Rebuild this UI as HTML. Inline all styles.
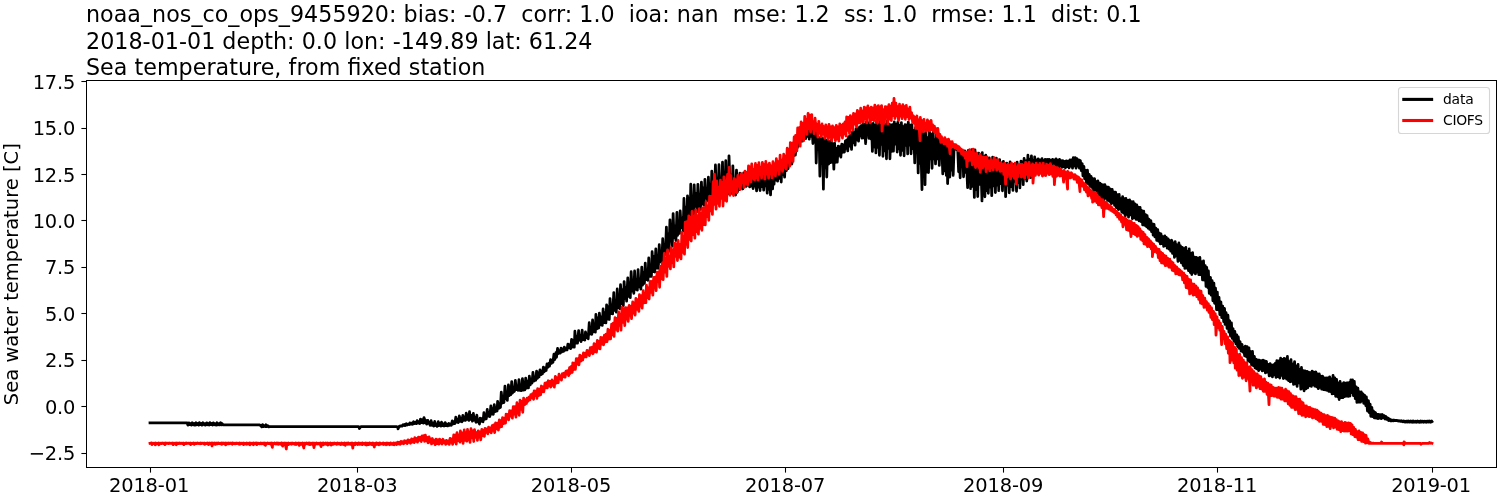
<!DOCTYPE html>
<html lang="en"><head><meta charset="utf-8"><title>noaa_nos_co_ops_9455920 Sea temperature</title>
<style>
html,body{margin:0;padding:0;background:#fff;}
body{width:1500px;height:500px;overflow:hidden;}
svg{display:block;}
text{font-family:"DejaVu Sans","Liberation Sans",sans-serif;}
</style></head><body>
<svg width="1500" height="500" viewBox="0 0 1500 500">
<rect width="1500" height="500" fill="#fff"/>
<g fill="none" stroke-width="2.778" stroke-linejoin="round" stroke-linecap="square">
<path stroke="#000" d="M150,422.90L150.30,422.89L151.36,422.91L152.19,422.90L152.90,422.91L153.93,422.89L154.61,422.91L155.45,422.89L156.35,422.91L157.41,422.89L158.21,422.91L159.08,422.90L159.80,422.91L160.84,422.89L161.69,422.91L162.49,422.90L163.60,422.91L164.47,422.89L165.29,422.91L166.24,422.89L167.12,422.91L167.91,422.89L168.82,422.91L169.73,422.89L170.67,422.91L171.40,422.89L172.05,422.91L173.01,422.90L174.10,422.91L175,422.89L175.61,422.91L176.50,422.89L177.46,422.91L178.22,422.89L179.31,422.91L180.28,422.90L181.07,422.91L182.09,422.89L182.66,422.91L183.75,422.89L184.60,422.91L185.47,422.89L186.26,422.91L187.10,422.97L187.88,425.11L188.84,422.87L189.82,424.54L190.83,423.40L191.62,425.11L192.27,422.76L193.30,424.71L194.36,423.55L195.01,425.11L196.02,422.69L196.68,424.71L197.64,423.57L198.75,425.11L199.40,422.69L200.49,424.60L201.25,423.39L202.02,425.11L202.95,422.69L204.02,424.72L204.87,423.63L205.39,425.11L206.60,422.84L207.38,424.73L208.03,423.39L209.07,425.11L209.86,422.69L210.87,424.53L211.82,423.54L212.64,425.11L213.31,422.87L214.54,424.71L215.11,423.66L216.18,425.11L216.99,422.75L217.73,424.88L218.61,423.74L219.50,424.88L220.57,422.69L221.52,424.82L222.09,423.58L223.17,424.92L223.85,424.79L224.98,424.90L225.84,424.81L226.51,424.92L227.41,424.78L228.36,424.90L229.41,424.83L229.98,424.92L230.88,424.78L231.86,424.90L232.96,424.81L233.71,424.92L234.38,424.78L235.47,424.88L236.36,424.81L237.25,424.92L238.24,424.78L238.99,424.91L239.72,424.83L240.70,424.91L241.54,424.78L242.57,424.90L243.36,424.84L244.09,424.91L244.90,424.78L245.77,424.90L246.63,424.83L247.65,424.92L248.41,424.78L249.29,424.89L250.25,424.83L251.34,424.92L252.14,424.78L252.85,424.90L253.84,424.83L254.74,424.92L255.77,424.78L256.48,424.90L257.31,424.81L258.28,424.92L259.24,424.79L260.11,425.29L260.84,425.42L261.80,426.90L262.56,424.66L263.51,426.50L264.45,425.60L265.39,426.64L266.01,424.74L267,426.61L267.88,425.67L268.82,426.88L269.56,426.69L270.64,426.71L271.57,426.70L272.46,426.71L273.08,426.69L274.04,426.71L274.77,426.69L275.83,426.71L276.86,426.69L277.63,426.71L278.50,426.70L279.22,426.71L280.08,426.69L281.02,426.71L282.07,426.69L282.68,426.71L283.70,426.69L284.59,426.71L285.60,426.69L286.45,426.71L287.29,426.69L287.99,426.71L288.81,426.69L289.91,426.71L290.79,426.69L291.76,426.71L292.51,426.70L293.45,426.71L294.16,426.69L295.07,426.71L295.88,426.69L296.95,426.71L297.73,426.69L298.54,426.71L299.62,426.70L300.21,426.71L301.10,426.69L302.21,426.71L303.08,426.69L303.81,426.71L304.83,426.69L305.55,426.71L306.49,426.70L307.36,426.71L308.29,426.69L309.13,426.71L310.10,426.70L310.73,426.71L311.58,426.69L312.77,426.71L313.54,426.69L314.51,426.71L315.14,426.69L316.28,426.71L316.90,426.69L317.73,426.71L318.91,426.69L319.66,426.71L320.42,426.70L321.39,426.71L322.38,426.69L323.16,426.71L324.21,426.70L324.98,426.71L325.99,426.69L326.63,426.71L327.49,426.69L328.51,426.71L329.20,426.69L330,426.71L331,426.70L331.78,426.71L332.99,426.69L333.87,426.71L334.58,426.69L335.59,426.71L336.43,426.69L337.07,426.71L338.22,426.70L338.85,426.71L339.73,426.69L340.72,426.71L341.59,426.69L342.39,426.71L343.51,426.69L344.42,426.71L345.08,426.70L346.11,426.71L346.91,426.69L347.87,426.71L348.53,426.69L349.68,426.71L350.36,426.69L351.19,426.71L352.26,426.70L353.18,426.71L353.79,426.69L354.82,426.71L355.74,426.70L356.59,426.71L357.30,426.69L358.20,426.71L359.23,426.83L359.30,428.51L360.83,426.69L361.89,426.71L362.61,426.70L363.40,426.71L364.49,426.69L365.43,426.71L366.02,426.70L367.14,426.71L367.86,426.69L368.64,426.71L369.72,426.70L370.59,426.71L371.47,426.69L372.44,426.71L373.33,426.70L373.97,426.71L375.06,426.69L375.87,426.71L376.52,426.70L377.43,426.71L378.61,426.69L379.49,426.71L380.38,426.70L381.20,426.71L381.90,426.69L382.71,426.71L383.90,426.70L384.55,426.71L385.31,426.69L386.53,426.71L387.03,426.70L388.09,426.71L389.15,426.69L390.04,426.71L390.83,426.70L391.80,426.71L392.33,426.69L393.46,426.71L394.37,426.70L395.16,426.71L396.07,426.69L396.94,426.71L397.84,426.98L398,428.81L399.38,426.12L400.30,426.30L401.17,425.86L402.06,426.08L403.10,424.63L404.04,425.51L404.68,424.48L405.53,425.43L406.35,423.71L407.31,424.92L408.27,424.05L409.24,424.64L409.86,422.88L411.02,424.16L411.99,423.08L412.59,424.19L413.59,421.74L414.45,423.57L415.43,422.37L416.31,423.58L417.08,420.58L418.01,423.08L418.62,421.62L419.75,423.46L420.50,419.10L421.64,422.62L422.28,419.73L423.35,423.13L424.01,417.53L425.07,422.76L425.88,420.20L426.72,424.17L427.78,420.33L428.51,423.38L429.41,422.69L430.14,425.32L431.09,420.70L432.11,425.35L433.04,423.16L433.80,426.08L434.74,421.41L435.40,425.50L436.25,423.95L437.17,426.40L438.30,421.69L438.88,425.63L440.07,423.67L440.91,426.14L441.52,422.24L442.68,425.60L443.53,423.91L444.18,426.02L445.16,422.63L446.12,425.50L446.84,424.13L447.66,425.89L448.80,423.46L449.71,425.33L450.39,424.16L451.36,425.21L452.23,420.96L453.21,423.86L453.74,421.84L454.84,423.65L455.83,417.05L456.35,422.16L457.56,419.59L458.24,422.63L459.32,415.90L459.98,421.37L461.12,418.11L461.91,421.82L462.88,415.30L463.52,420.29L464.39,417.45L465.45,420.42L466.21,413.09L466.95,419.45L468.08,414.82L468.89,420.39L469.53,411.66L470.48,419.31L471.45,415.40L472.46,421.21L473.36,413.45L474.25,420.11L474.87,417.43L475.95,422.29L476.83,415.20L477.46,421.92L478.56,419.85L479.45,424.03L480.10,418.11L481.20,421.32L482.17,418.40L483,421.78L483.91,412.67L484.54,419.42L485.50,415.24L486.26,418.82L487.24,409.39L488.11,416.12L489.06,412.56L489.78,416.65L490.87,405.97L491.68,414.23L492.70,408.88L493.28,414.31L494.27,404.73L495.23,411.57L495.84,407.76L497.09,410.97L497.62,401.31L498.74,408.45L499.55,403.49L500.45,407.48L501.29,392.10L502.37,403.22L502.99,397.43L503.96,402.52L504.95,386.10L505.55,398.52L506.54,392.80L507.31,400.35L508.38,384.98L509.22,395.71L510.18,386.61L510.83,394.68L511.71,381.62L512.51,393.07L513.57,388.07L514.40,391.48L515.34,380.50L516.25,389.59L517.17,386.34L518.09,390.45L518.99,379.57L519.56,390.30L520.75,385.70L521.41,390.72L522.44,378.69L523.38,390.11L524.14,382.87L524.92,389.77L525.68,378.05L526.65,388.12L527.54,381.17L528.44,387.96L529.36,376.16L530.20,384.96L530.98,379.20L531.95,383.19L532.96,372.40L533.81,381.23L534.46,377.09L535.70,380.26L536.58,371.05L537.43,378.38L538,372.99L538.98,377.01L539.98,369.86L540.95,374.68L541.59,371.46L542.41,373.87L543.35,367.10L544.10,371.85L545.13,367.84L546.12,370.49L547,364.01L547.95,367.29L548.71,363.39L549.44,366.15L550.55,359.62L551.38,363.41L552.06,360.91L552.94,362.41L553.94,354.27L554.77,359.62L555.89,352.76L556.48,357.32L557.57,348.34L558.14,353.65L559.05,350.61L560.04,353.16L561.06,348.04L561.69,352.01L562.68,349.30L563.63,351.33L564.29,347.13L565.47,350.12L566.37,348.34L567.01,349.91L567.93,344.05L568.86,347.94L569.57,344.75L570.66,348.67L571.58,339.31L572.26,347.11L573.27,340.49L574.28,347.18L574.90,331.26L576.03,343.04L576.81,336.42L577.50,343.14L578.63,330.55L579.30,340.10L580.09,335.61L581.08,341.55L582.18,330.10L582.77,339.51L583.82,336.04L584.80,340.21L585.49,331.93L586.27,337.71L587.20,334.10L588.19,338.80L589.24,322.74L589.89,334.03L590.66,328.80L591.78,334.36L592.59,319.85L593.60,331.77L594.36,325.22L595.34,332.15L595.89,314.42L596.76,328.97L597.86,317.83L598.73,328.06L599.38,313.04L600.58,324.88L601.38,317L602.25,325.38L603.11,308.98L603.94,322.59L604.88,312.81L605.89,322.91L606.60,304.89L607.41,319.04L608.16,306.83L609.27,319.49L610.02,298.52L611.06,313.56L611.93,307.50L612.61,313.87L613.80,292.53L614.38,310.38L615.46,302.21L616.33,312.23L617.23,288.96L618.18,307.64L619.01,296.66L619.83,308.80L620.51,284.69L621.58,303.62L622.20,289.91L623.31,305.62L624.13,281.55L625.16,298.32L625.77,287.48L626.60,301.15L627.79,277.91L628.69,296.32L629.28,282.54L630.28,297.62L631.15,271.76L632.22,291.12L633.06,285.15L633.84,293.30L634.60,271L635.42,289.33L636.51,279.48L637.33,290.18L638.07,269.64L638.99,286.75L640.14,278.67L640.87,289.16L641.78,267.16L642.51,285.20L643.57,272.74L644.44,283.31L645.27,263.10L646.06,279.62L646.88,269.95L647.97,280.30L648.74,257.94L649.49,276.45L650.28,266.25L651.39,276.39L652.12,251.75L653.16,271.49L653.89,256.65L654.76,272.03L655.83,248.82L656.68,268.06L657.47,257.56L658.35,268.32L659.25,244.69L660.14,261.65L660.87,251.39L661.84,262.87L662.73,238.73L663.63,255.24L664.71,246.93L665.36,254.47L666.40,227.09L667.10,248.56L667.90,234.04L668.90,251.26L669.97,219.83L670.73,240.77L671.39,231.66L672.30,246.20L673.14,213.54L674.05,237.75L675.02,225.96L675.93,240.49L676.94,212.42L677.53,235.45L678.58,224.02L679.49,233.34L680.18,210.90L681.17,227.49L681.87,218.26L683.14,231.02L683.95,198.49L684.54,220.84L685.40,206.93L686.55,224.42L687.50,195.85L688.40,218.49L689.18,197.90L690.08,217.83L690.76,184.19L691.71,209.46L692.78,197.62L693.54,213.85L694.19,184.88L695.04,206.28L696.28,193.28L696.97,211.71L697.90,184.32L698.68,206.57L699.75,198.17L700.43,209.45L701.43,182.11L702.29,204.21L703.14,188.14L704.18,205.33L704.90,179.41L705.66,198.08L706.57,191.30L707.53,200.82L708.39,177.21L709.25,199.13L710.10,184.63L711.02,198.73L711.79,171.09L712.82,195.21L713.80,178.68L714.39,196.99L715.44,164.93L716.34,195.46L717.15,179.26L717.91,198.98L718.98,164.67L719.92,194.97L720.78,178.90L721.73,194.43L722.50,162.17L723.19,193.78L724.23,174.36L724.90,193.72L725.76,160.74L726.84,193.36L727.73,179.65L728.40,193.70L729,155.89L730.21,190.59L731.31,175.06L732.17,193.55L732.85,165.87L733.83,192.67L734.54,178.30L735.59,195.01L736.49,170.12L737.50,191.76L738.33,179.88L739.18,189.62L739.92,173.11L740.77,187.89L741.71,177.92L742.72,188.99L743.67,172.82L744.42,184.38L745.23,179.87L746.08,186.30L746.81,173.40L747.73,185.22L748.92,177.47L749.66,186.91L750.56,173.55L751.42,186.04L752.26,177.47L753.15,188.52L754.06,172.12L754.70,185.99L755.61,176.09L756.59,190.81L757.67,171.08L758.29,187.22L759.30,177.90L760.06,190.49L761.05,169.98L761.74,186.65L762.84,174.46L763.69,190.16L764.48,169.29L765.26,185.83L766.20,176.10L767.22,193.22L768.08,169.96L769.12,189.24L769.62,172.25L770.54,194.88L771.54,167.48L772.59,188.90L773.43,171L774.07,184.15L774.95,166.10L775.85,180.19L776.82,168.85L777.59,181.17L778.77,165.10L779.64,178.36L780.51,165.86L781.23,182.03L781.94,161.06L782.93,174.39L783.68,161.74L784.58,177.06L785.56,157.08L786.36,170.67L787.50,157.04L788.11,168.60L788.95,153.34L789.85,163.85L790.70,152.24L791.87,164.01L792.66,148.78L793.62,155.88L794.55,147.10L795.33,155.13L796.26,143.83L797.04,148.29L797.71,142.23L798.59,146.06L799.74,138L800.66,141.49L801.41,135.66L802.47,141.04L803.22,133.21L803.94,137.41L804.94,131.63L805.66,138.69L806.50,128.34L807.50,136.45L808.39,128.39L809.25,139.06L810.15,126.53L811.12,136.32L812.11,128.29L812.92,143.50L813.87,127.65L814.39,142.07L815.61,131.90L816.20,163.01L817.12,132.70L818.22,149.31L819.15,137.51L819.91,176.18L820.74,138.88L821.75,163.72L822.57,138.22L823.40,189.11L824.07,139.80L824.98,167.95L825.97,140.42L826.75,177.03L827.76,139.72L828.66,164L829.32,141.70L830.44,162.63L831.30,140.31L832.30,162.27L832.80,143.91L833.85,169.19L834.61,143.17L835.54,162.24L836.42,148.40L837.23,162.22L838.21,146.26L839.26,155.24L840.08,146.57L840.85,157.12L841.76,144.24L842.53,152.39L843.36,144.84L844.37,152.02L845.40,140.97L846.01,148.37L846.89,139.85L847.74,150.81L848.60,136.69L849.56,146.02L850.58,135.33L851.53,149.31L852.38,132.03L853.14,142.55L853.87,132.03L855.09,145.06L855.95,128.91L856.59,139.91L857.41,128.75L858.54,141.14L859.51,126.98L860.19,135.87L861.20,125.73L861.95,138.23L863.02,123.40L863.76,137.84L864.56,124.33L865.63,143.64L866.51,121.75L867.17,134.56L868.04,123.59L868.86,138.25L869.75,121.61L870.78,138.90L871.52,124.16L872.38,151.46L873.27,123.28L874.44,147.05L875.09,125.43L875.92,152.96L876.71,120.19L877.89,147.46L878.44,124.20L879.43,155.29L880.41,120.19L881.26,144.39L882.10,122.56L882.95,156.28L883.75,122.61L884.78,150.87L885.71,124.33L886.48,158.81L887.27,120.82L888.38,148.32L889.18,124.10L889.93,158.81L891.07,124.81L891.95,151.27L892.72,124.63L893.44,151.17L894.25,121.91L895.28,144.05L896.17,124.11L897.19,152L897.93,121.90L899,148.75L899.83,125.39L900.51,155.32L901.39,122.65L902.40,150.40L903.37,126.57L904.10,155.76L905,124.68L905.71,145.26L906.84,124.88L907.66,153.98L908.31,122.08L909.27,145L910.39,125.09L911.06,153.81L911.91,124.73L912.97,148.58L913.65,130.68L914.75,162.98L915.51,127.74L916.19,151.75L917.18,127.97L918.18,172.97L918.95,129.69L919.86,163.45L920.58,134.61L922,189.61L922.60,127.23L923.38,172.92L924.16,134.15L925.02,184.69L925.89,128.63L926.70,172.21L927.77,137.60L928.50,172.56L929.54,130.46L930.34,158.86L931.08,134.16L932.03,168.30L933.18,132.28L933.76,158.92L934.62,139.35L935.53,163.94L936.40,134.31L937.40,158.88L938.44,139.55L939.27,165.36L940.16,137.31L941.10,157.09L941.64,141.62L942.78,173.86L943.60,141.48L944.42,170.86L945.38,145.16L946.37,175.46L947.25,142.13L947.60,183.61L948.89,148.19L949.79,177.08L950.58,143.88L951.44,170.15L952.37,149.07L953.18,175.40L954.14,145.67L954.98,148.92L955.93,147.26L956.59,149.62L957.61,146.57L958.63,171.80L959.33,149.73L960.16,177.79L961.11,150.22L961.91,166.37L962.92,152.79L963.54,176.80L964.71,151.01L965.61,172.30L966.19,155.05L967.60,187.61L968.28,150.49L969.01,180.45L969.78,153.98L970.61,188.63L971.77,149.74L972.71,186.36L973.29,156.04L974.36,197.38L974.97,149.90L976.13,189.71L976.82,155.05L977.71,196.52L978.66,153.07L979.43,184.34L980.61,155.90L982,200.91L982.26,152.52L983.11,190.05L983.76,156.31L984.87,196.81L985.76,155.02L986.47,190.52L987.25,159.10L988.30,193.27L989.32,157.95L990.24,187L990.79,161.35L991.74,195.69L992.65,157.09L993.57,185.93L994.46,162.21L995.38,192.55L996.38,158.15L996.95,185.09L997.87,162.67L998.78,190.65L999.63,159.61L1000.76,183.50L1001.61,163.24L1002.47,190.79L1003.39,161.35L1003.95,183.88L1005.07,163.91L1005.60,196.61L1006.75,163.05L1007.74,185.10L1008.53,165.53L1009.23,192.81L1010.09,162L1010.99,186.67L1012.07,166.48L1012.97,190.48L1013.65,164.31L1014.48,181.47L1015.35,164.76L1016.53,191.28L1017.12,162.05L1018.18,182.57L1019.18,167.42L1019.88,187.93L1020.96,161.23L1021.56,178.87L1022.46,161.77L1023.22,184.59L1024.10,158.46L1025.28,178.68L1026.01,160.97L1026.77,181.04L1027.92,155.25L1028.81,173.68L1029.42,159.09L1030.62,177.63L1031.44,155.91L1032.32,171.46L1032.88,160.23L1034.07,174.76L1034.67,156.86L1035.89,170.79L1036.73,160.01L1037.37,170.96L1038.18,158.88L1039.06,166.36L1040.05,159.85L1041.09,170.43L1042.02,158.70L1042.85,167.06L1043.46,160.57L1044.45,168.78L1045.17,159.43L1046.18,167.35L1047.28,159.49L1048.15,167.97L1049.05,159.34L1049.82,166.19L1050.66,160.13L1051.41,168.46L1052.54,159.41L1053.20,165.36L1054.30,160L1055.19,167.86L1056.04,158.77L1056.91,166.03L1057.53,160.12L1058.65,167.08L1059.51,159.40L1060.21,166.08L1060.99,160.61L1061.96,167.38L1062.71,160.55L1063.72,166.74L1064.77,161.37L1065.45,167.87L1066.34,160.89L1067.13,166.66L1068.15,161.19L1069.16,167.96L1069.97,159.88L1070.97,166.22L1071.56,159.82L1072.52,168.10L1073.30,157.74L1074.36,165.77L1075.15,157.62L1076.05,168.18L1076.86,158.53L1077.69,166.02L1078.86,159.89L1079.40,168.06L1080.38,160.51L1081.29,170.63L1082.17,163.69L1082.96,175.88L1083.92,166.49L1084.66,178.97L1085.80,170.36L1086.44,182.88L1087.43,170.10L1088.42,184.10L1089.30,174.27L1089.96,186.12L1091.13,176.46L1091.69,187.43L1092.80,178.70L1093.60,190.59L1094.60,178.75L1095.23,190.07L1096.39,181.63L1097.11,192.81L1097.86,180.98L1098.95,194.75L1099.73,183.20L1100.66,197.55L1101.31,184.10L1102.27,198.12L1103.46,184.83L1104.22,199.52L1104.86,184.67L1105.99,198.19L1106.72,186.94L1107.50,200.29L1108.44,187.10L1109.39,201.24L1110.38,188.97L1111.17,203.78L1112.20,189.51L1113.11,202.84L1113.62,191.89L1114.58,205.46L1115.62,192.07L1116.33,207.58L1117.34,194.63L1118.35,209.52L1119.17,194.50L1120.13,209.08L1120.65,198.32L1121.75,212.01L1122.62,196.70L1123.58,213.17L1124.15,198.70L1125.19,215.93L1125.90,198.34L1126.97,214.43L1127.98,200.43L1128.53,217.11L1129.57,199.91L1130.41,214.97L1131.40,201.66L1132.40,218.75L1133.22,201.73L1134.05,217.61L1134.91,203.88L1135.91,219.28L1136.72,204.92L1137.42,219.35L1138.33,207.13L1139.07,220.96L1140.08,207.47L1141.13,221.70L1141.80,210.68L1142.68,224.84L1143.74,211.24L1144.67,225.26L1145.51,214.67L1146.39,226.49L1147.12,215.75L1148.08,228.16L1148.96,219.16L1149.70,229.30L1150.84,220.53L1151.54,231.56L1152.44,223.85L1153.17,235.08L1154.04,224.26L1154.91,236.90L1155.91,228.25L1156.73,240.34L1157.71,229.73L1158.60,241.24L1159.44,233.10L1160.36,243.84L1160.98,233.88L1162.25,243.67L1162.98,236.58L1163.66,246.44L1164.80,235.79L1165.77,245.68L1166.32,237.36L1167.20,248.21L1168.13,238.91L1169.11,249.10L1169.85,240.65L1170.72,251.23L1171.81,240.26L1172.52,253.45L1173.56,243.02L1174.45,257.31L1175.18,241.62L1176.23,255.93L1176.93,244.79L1177.98,261.42L1178.90,242.99L1179.75,260.46L1180.42,245.90L1181.42,262.82L1182.30,247.32L1183.19,265.50L1184.10,248.76L1184.87,268.48L1185.85,247.31L1186.57,268.04L1187.46,251.64L1188.49,270.58L1189.21,248.99L1190.31,272.52L1191.03,253.53L1191.80,274.50L1192.58,252.61L1193.81,272.37L1194.53,257.25L1195.42,273.98L1196.33,257.30L1197.15,272.17L1198.19,258.10L1198.82,274.63L1199.86,257.36L1200.84,274.57L1201.42,261.65L1202.53,279.81L1203.50,260.88L1204.26,280.23L1205.19,265.59L1206.02,286.43L1206.72,267.50L1207.75,287.51L1208.40,270.94L1209.29,293.37L1210.45,277.43L1211.18,295.16L1212.10,280.71L1212.88,300.82L1213.87,283.14L1214.58,303.32L1215.48,288.02L1216.55,309.61L1217.30,292.18L1218.23,309.84L1219.01,297.27L1219.84,314.60L1220.88,301.90L1221.74,317.62L1222.65,306.20L1223.68,321.65L1224.54,308.46L1225.06,324.36L1226.03,312.52L1227.07,328.48L1227.92,315.22L1228.94,332.22L1229.68,320.82L1230.52,336.15L1231.41,322.81L1232.26,338.32L1233.06,328.56L1233.87,341.24L1234.80,331.28L1235.89,343.86L1236.74,334.78L1237.63,346.57L1238.27,336.92L1239.21,348.44L1240.05,341.74L1241.10,351.21L1242.02,344.38L1242.96,352.18L1243.57,347.26L1244.65,355.88L1245.31,346.06L1246.38,356.66L1247.07,346.63L1247.97,360.57L1248.96,347.94L1249.78,361.88L1250.65,351.54L1251.57,364.89L1252.46,351.46L1253.35,365.72L1254.39,356.40L1255.01,367.89L1255.85,359.08L1256.65,368.86L1257.85,359.98L1258.62,370.71L1259.27,360.03L1260.19,369.22L1261.28,360.73L1262.25,370.96L1263.12,360.13L1263.72,370.41L1264.57,360.85L1265.41,372.79L1266.44,361.34L1267.20,372.11L1268.27,364.47L1269.19,375.94L1270.09,363.66L1270.92,375.42L1271.74,365.25L1272.45,376.96L1273.66,364.52L1274.24,374.95L1275.42,363.21L1276.04,377.47L1276.86,360.54L1277.91,376.73L1278.85,360.93L1279.76,378.01L1280.62,358.22L1281.25,375.36L1282.39,359.48L1283.32,378.51L1284.11,358.31L1284.98,377.88L1285.83,358.79L1286.69,379.09L1287.42,356.49L1288.41,380.50L1289.34,361.76L1290.12,381.77L1291.01,359.57L1291.74,381.47L1292.70,364.03L1293.52,384.34L1294.57,361.65L1295.62,383.86L1296.37,366.14L1297.11,386.48L1298.07,364.44L1298.77,382.79L1299.69,369.29L1300.82,389.21L1301.47,367.51L1302.62,388.24L1303.30,370.58L1304.04,390.81L1304.99,370.94L1305.82,388.87L1306.95,371.36L1307.64,387.81L1308.55,372.07L1309.56,385.77L1310.23,372.68L1311.38,386.39L1312.11,371.10L1313.16,384.57L1313.78,372.24L1314.72,386.15L1315.82,371.88L1316.62,386.77L1317.41,373.87L1318.30,388.71L1319.21,373.92L1319.98,387.28L1320.90,376.06L1321.65,389.21L1322.65,376.22L1323.35,389.54L1324.40,377.98L1325.19,389.88L1326.16,377.81L1327.12,390.41L1327.89,377.94L1328.90,391.40L1329.64,376.85L1330.53,391.51L1331.55,378.82L1332.11,393.88L1333.04,375.33L1334.03,393.57L1334.80,377.88L1335.63,396.24L1336.56,379.29L1337.56,396.78L1338.36,383.10L1339.16,399.55L1340.05,381.41L1341,397.66L1342.03,384.01L1342.93,397.60L1343.80,382.64L1344.76,396.54L1345.56,383.22L1346.30,396.03L1347.38,382.76L1348.23,396.30L1349.11,382.67L1349.93,396.01L1350.87,379.84L1351.63,392.63L1352.52,379.91L1353.45,395.62L1354.30,381.44L1355.28,398.57L1356.10,386.78L1356.90,402.34L1357.88,388.21L1358.63,402.05L1359.55,391.79L1360.50,402.10L1361.23,392L1362.28,400.88L1363.08,393.77L1363.69,403.26L1364.67,395.29L1365.83,405.62L1366.35,396.92L1367.46,411L1368.43,400.64L1369.30,412.56L1370.13,404.17L1370.78,416.26L1371.84,407.28L1372.49,416.51L1373.42,410.85L1374.32,417.90L1375.47,412.49L1376.16,418.06L1377.16,414.40L1378.08,418.61L1378.69,414.39L1379.71,418L1380.75,414.73L1381.25,418.61L1382.30,414.54L1383.28,417.91L1384.07,415.61L1385,419L1385.98,416.45L1386.60,419.40L1387.63,417.92L1388.60,420.45L1389.16,418.76L1390.35,420.91L1390.91,419.75L1391.90,420.88L1393.03,419.98L1393.57,420.70L1394.52,420.22L1395.34,420.66L1396.27,420.41L1397.28,420.81L1397.94,420.59L1399.04,421.15L1399.97,420.67L1400.79,421.41L1401.47,420.82L1402.52,421.76L1403.57,420.92L1404.36,421.99L1404.94,421.10L1405.85,422.15L1407,421.04L1407.64,422.12L1408.57,421.07L1409.40,422.11L1410.50,420.99L1411.29,422.10L1412.20,421.08L1412.91,422.21L1413.72,421.09L1414.70,422.14L1415.62,421.13L1416.45,422.21L1417.42,421.08L1418.19,422.13L1419.03,421.19L1419.97,422.21L1420.76,421L1421.66,422.08L1422.64,421.10L1423.50,422.21L1424.28,421.11L1425.19,422.12L1426.22,421.12L1426.94,422.21L1427.99,421.09L1428.63,422.11L1429.65,421.07L1430.40,422.21L1431.63,421.06L1432,421.60"/>
<path stroke="#f00" d="M150,443.30L151.60,442.93L152,444.65L153.28,443.08L154.24,443.67L155.28,443.01L155.33,444.91L156.90,443.11L157.85,443.63L158.80,442.93L158.85,444.92L160.55,443.10L161.49,443.60L162.21,443L163.26,443.48L163.92,443.03L165,444.61L165.82,443L166.60,443.45L167.53,443.03L168.48,443.67L169.12,442.93L170.17,443.47L170.84,443.07L171.86,443.59L172.86,442.97L173.07,444.70L174.54,443.10L175.21,443.67L176.19,442.94L176.24,444.80L178,443.05L178.83,443.67L179.79,442.93L180.46,443.51L181.46,443.10L182.46,443.67L183.17,442.93L183.91,444.61L185.11,443.09L186.08,443.62L186.63,442.96L187.58,443.47L188.68,443.14L189.45,443.59L190.13,442.99L190.66,444.56L191.98,443.10L192.78,443.67L193.72,442.94L194.21,444.37L195.63,443.07L196.40,443.65L197.41,442.92L198.36,443.55L199.11,443.18L200.15,443.73L200.74,442.92L201.69,443.50L202.60,443.11L203.54,443.66L204.19,442.92L204.62,444.40L206.22,443.12L207.07,443.76L207.69,442.92L208.56,444.52L209.77,443.06L210.39,443.78L211.36,442.98L212,446.01L213.06,443.05L214.07,443.70L214.75,442.91L215.35,444.35L216.83,443.09L217.41,443.82L218.26,442.91L219.21,443.69L220.19,443.08L221.73,444.35L221.96,442.91L222.95,443.55L223.70,443.04L224.40,443.86L225.33,442.91L225.68,444.89L227.07,443.06L228.14,443.88L228.79,442.91L229.89,443.73L230.78,443.05L232.25,444.31L232.54,442.91L233.44,443.67L234.09,443.13L235.04,443.91L236.12,442.90L236.66,443.66L237.63,443.06L238.57,443.92L239.44,442.90L239.94,444.23L241.28,443.12L242.03,443.84L243.13,442.97L243.61,444.64L244.80,443.21L245.61,443.95L246.60,442.94L246.65,444.26L248.05,443.22L249.80,444.84L249.87,442.90L250.98,443.78L251.83,443.19L253.42,444.76L253.51,442.90L254.44,443.78L255.19,443.06L256.86,444.65L256.98,442.96L257.79,443.72L258.64,443.21L259.75,443.93L260.68,442.89L261.29,443.81L262.39,443.16L263.33,443.96L264.07,442.89L265.40,445.41L265.67,443.14L266.52,443.96L267.43,442.89L268.57,443.69L269.21,443.15L270.26,443.96L271.07,442.89L272.40,447.41L272.60,443.23L273.49,444.08L274.46,442.89L275.42,443.92L276.47,443.06L277.24,444.09L277.96,442.97L278.67,444.34L279.95,443.11L280.82,444.16L281.40,442.88L282.60,446.11L283.19,443.11L284.32,444.07L284.99,442.88L286.30,449.01L286.88,443.14L288.41,444.63L288.67,443L289.29,444L290.50,443.19L291.38,444.22L292.11,442.88L292.97,443.74L293.90,443.21L294.90,444.24L295.72,442.88L296.26,444.55L297.20,443.09L298.37,444.09L298.96,442.92L299.18,445.39L300.74,443.19L301.61,444.27L302.49,442.94L303.80,448.01L304.51,443.12L305.25,444.29L306.28,442.90L307.09,443.77L308.08,443.08L308.81,444.17L309.70,442.87L309.89,444.66L311.44,443.21L312.34,444.30L313.05,442.90L314,447.61L314.80,443.13L315.70,444.26L316.50,442.94L317.74,443.98L318.26,443.31L319.48,444.28L320.30,443L321,446.61L322.10,443.15L323.52,444.76L323.57,443L324.74,443.99L325.51,443.09L326.26,444.37L327.18,442.97L327.85,445.13L329,443.32L330.01,444.41L330.53,443.04L331.17,445.07L332.58,443.28L333.39,444.27L334.18,442.86L335.26,443.87L336.01,443.27L336.80,444.40L337.61,442.89L338.80,444.07L339.38,443.31L340.52,444.48L341.41,442.85L341.67,444.47L342.95,443.15L343.78,444.50L344.61,442.93L345.34,445.30L346.33,443.10L347.57,444.32L348.11,442.87L349.10,444.12L350.15,443.17L350.73,444.43L351.97,442.85L352.80,448.11L353.37,443.31L354.26,444.55L355.33,442.85L355.44,444.49L356.88,443.21L357.97,444.53L358.67,442.84L359.56,444.24L360.58,443.14L361.43,444.40L362.23,442.84L362.34,444.70L364.22,443.17L365.08,444.46L365.89,442.87L366.48,445.01L367.44,443.23L368.50,444.63L369.39,442.84L369.62,444.40L371,443.17L371.79,444.65L372.88,442.84L374.37,447.01L374.42,443.38L375.64,444.67L376.29,442.92L377.39,444.36L378.06,443.18L378.95,444.69L379.75,442.86L380.72,444.22L381.62,443.44L383.20,444.44L383.29,442.85L384.36,444.17L385.18,443.25L385.94,444.72L386.99,442.86L387.59,444.23L388.57,443.24L389.63,444.74L390.53,442.83L391.31,444.22L392.10,443.48L393.14,444.58L393.70,442.83L394.33,444.70L395.82,443.01L396.49,444.45L397.57,442.32L398.12,443.97L399.14,442.31L400.15,444.32L400.96,441.46L401.81,443.43L402.66,441.67L403.70,443.69L404.49,440.75L405.26,442.74L406.12,440.90L407.13,443.62L408.04,439.90L408.67,442.36L409.53,440.46L410.59,443.24L411.61,438.89L412.38,442.13L413.19,439.40L414.20,442.56L414.80,437.74L415.90,440.96L416.74,438.52L417.49,442.18L418.46,437.04L419.20,440.40L420.40,437.31L421.24,441.60L422.11,435.84L422.96,439.54L423.89,435.66L424.58,441.41L425.40,435.11L426.34,440.78L427.11,437.46L428.05,442.85L429.03,436.87L430.04,442.19L430.87,439.28L431.54,443.94L432.37,438.50L433.27,442.77L434.18,440.49L435.16,444.73L435.95,439.05L436.78,443.58L437.96,439.78L438.80,444.15L439.71,439.06L440.32,443.06L441.25,440.41L441.96,444.03L442.92,439.25L443.76,442.94L444.93,440.86L445.72,444.37L446.42,440.37L447.54,443.29L448.38,440.87L449.20,444.43L450.07,438.45L450.92,442.35L451.84,438.84L452.65,444.29L453.73,434.84L454.47,441.89L455.25,435.19L456.24,444.02L457.02,432.63L458.04,440.65L458.88,435.06L459.90,442.15L460.38,430.99L461.45,440.55L462.16,432.99L463.08,443.30L464.26,429.83L464.99,440.26L465.75,432.67L466.87,441.21L467.51,429.33L468.48,439.91L469.50,431.95L470.04,442.42L470.98,428.75L471.91,437.98L472.90,430.97L473.75,441.49L474.52,429.70L475.61,437.39L476.31,432.57L477.42,440.34L478.22,431L478.85,437.09L479.92,431.88L480.74,439.95L481.82,429.40L482.62,435.68L483.31,430.44L484.37,436.39L485.05,428.43L486.02,432.32L486.94,428.92L487.84,433.89L488.58,427.14L489.54,431.50L490.56,428.02L491.26,432.88L492.18,425.69L493.09,430.46L493.73,424.90L494.66,432.55L495.60,423L496.48,428.88L497.61,423.19L498.40,430L499.32,419.96L500.20,427.01L501.06,420.56L501.65,426.65L502.53,417.64L503.73,423.71L504.38,418.14L505.51,423.21L506.10,414.08L507.27,418.85L507.82,414.45L508.68,419.90L509.62,410.56L510.47,416.19L511.43,410.98L512.36,418.02L513.26,406.69L514.10,414.16L514.83,406.63L515.94,417.08L516.93,402.75L517.52,413.01L518.57,404.82L519.17,415.25L520.08,400.06L521.02,409.39L522.12,401.41L522.74,412.24L523.60,398.03L524.81,404.51L525.50,399.98L526.44,403.49L527.11,398.26L528.03,401.21L528.85,397.19L530,399.73L530.82,394.77L531.48,397.93L532.55,393.78L533.53,399.31L534.14,390.99L535.08,395.68L536.16,390.95L536.90,398.48L537.66,388.69L538.87,395.50L539.58,389.09L540.62,394.79L541.35,386.01L542.30,391.76L542.91,387.18L543.81,391.86L544.95,383.07L545.50,387.77L546.57,382.66L547.28,387.95L548.31,380.77L549.34,385.92L550.08,381.32L550.77,387L552.04,379.93L552.77,385.39L553.72,381.34L554.33,387.09L555.35,376.46L556.38,383.19L557.04,377.97L558.17,382.74L559.03,374.15L559.76,378.94L560.54,375.85L561.45,380.11L562.37,373.57L563.39,376.70L564.08,373.21L565.09,377.25L565.99,371.12L566.82,374.06L567.55,370.74L568.65,375.68L569.54,367.58L570.07,373.51L571,366.66L572.21,372.51L572.80,362.96L573.61,369.56L574.68,363.04L575.36,369.34L576.32,358.75L577.40,363.98L578.06,358.57L578.95,364.84L579.81,355.20L580.74,361.20L581.56,356.22L582.70,360.02L583.47,352.86L584.22,357.01L585.22,353.28L586.16,356.97L587.01,350.38L587.75,354.28L588.62,350.81L589.38,355.61L590.29,347.57L591.17,353.03L592.22,347.26L593.10,353.74L594.07,343.59L594.75,351.54L595.82,344.48L596.48,352.14L597.32,340.35L598.42,348.25L599.12,341.28L600.02,348.87L600.78,337.30L601.66,344.20L602.81,337.60L603.61,344.75L604.43,335.05L605.18,342.02L606.18,334.06L606.99,341.63L607.97,329.26L608.92,339.07L609.90,330.32L610.58,338.93L611.63,324.07L612.58,334.62L613.35,323.18L614.04,336.37L615.01,317.72L615.76,329.37L616.68,318.32L617.70,331.09L618.61,311.83L619.47,325.33L620.35,314.07L621.01,330.16L621.97,307.51L622.75,322.30L623.67,308.55L624.77,325.56L625.59,307.55L626.44,319.12L627.16,308L628.19,321.42L629.22,305.32L629.97,315.30L630.74,306.74L631.51,318.57L632.68,301.81L633.52,313L634.50,302.55L635.13,315.16L635.90,298.29L636.93,309.29L637.74,299.76L638.87,311.43L639.44,294.75L640.42,306.18L641.46,295.75L642.12,308.10L643.21,290.66L644,302.90L644.93,293.21L645.88,302.61L646.43,285.14L647.33,297.50L648.27,287.83L649.10,299.02L650.10,281.46L650.85,292.47L651.95,281.41L652.82,295.23L653.69,277.27L654.54,286.85L655.19,277.19L656.09,290.70L657.11,272.09L657.84,281.52L658.95,271.64L659.60,287.27L660.46,266.09L661.62,278.81L662.47,262.82L663.14,279.69L664.29,253.46L664.91,272.21L665.85,258.25L666.83,276.47L667.56,249.91L668.57,266.30L669.31,256.64L670.41,268.91L671.12,247.52L672.08,262.57L672.82,250.23L673.74,266.96L674.73,243.13L675.43,256.45L676.47,243.83L677.42,260.53L678.10,240.30L679.06,257.23L679.81,244.50L680.99,258.94L681.90,232.41L682.39,252.44L683.56,236.33L684.48,254.11L685.23,222.02L685.90,244.46L686.83,221.63L687.69,247.56L688.79,215.83L689.67,239.38L690.65,217.16L691.22,241.06L692.05,211.29L693.06,234.53L693.94,216.47L694.87,238.23L695.68,209.80L696.60,231.73L697.40,215.78L698.44,234.21L699.32,208.70L700.09,228.37L700.85,213.30L701.92,230.26L702.63,207.97L703.52,224.71L704.54,208.25L705.24,224.89L706.08,201.84L706.97,216.72L708.19,205.68L708.80,220.30L709.62,196.08L710.50,210.95L711.57,196.07L712.40,214.36L713.16,181.63L714.25,204.28L714.40,174.09L716.04,209.23L716.77,180.99L717.84,203.29L718.56,187.64L719.45,206.27L720.44,180.02L721.26,198.44L722.24,182.38L723.01,206.01L723.89,177L724.55,200.46L725.78,180.80L726.64,201.24L727.54,174.45L728.33,191.63L729.10,167.39L729.92,195.32L730.82,175.51L731.77,190.86L732.63,181.82L733.49,195.51L734.37,178.45L735.40,191.62L736.26,179.90L736.84,192.91L737.85,175.47L738.78,186.07L739.56,178.24L740.35,189.45L741.37,173.57L742.31,182.55L743.08,175.20L744.02,187.49L744.99,171.04L745.87,183.35L746.54,172.42L747.61,185.22L748.52,165.90L749.35,180.12L750.27,166.87L750.92,181.98L751.73,163.95L752.92,178.33L753.82,169.48L754.49,179.96L755.44,163.48L756.11,177.72L757.26,165.46L757.92,180.11L758.90,162.75L759.98,174.22L760.64,167.61L761.61,178.02L762.38,162.33L763.28,173.57L764.14,164.75L764.95,179.11L765.78,161.49L766.75,173.96L767.85,164.82L768.60,178.09L769.40,163.09L770.33,173.62L771.32,165.84L771.98,177.92L772.96,161.53L773.91,174.08L774.67,163.95L775.41,175.97L776.35,158.57L777.30,170.13L778.06,161.65L779.12,174.26L780.11,155.19L780.69,169.05L781.76,160.16L782.54,171.40L783.66,154.26L784.35,167.30L785.14,156.22L786.22,169.23L787.19,148.26L787.78,162.48L788.68,149.86L789.71,166.20L790.33,142.53L791.34,160.16L792.17,143.08L793.03,161.48L794.16,136.94L794.76,152.15L795.61,135.30L796.84,150.85L797.67,127.90L798.53,142.25L799.30,127.60L800.18,146.17L801.13,121.84L801.89,138.41L802.75,123.31L803.66,140.81L804.74,116.43L805.35,131.09L806.21,119.79L807.01,134.33L808.05,113.49L808.91,128.51L809.71,115.21L810.57,131.89L811.72,114.64L812.31,128.96L813.15,121.26L814.04,133.66L815.07,118.25L816.02,130.47L816.99,124.25L817.82,137.07L818.80,121.43L819.65,133.14L820.35,125.99L821.36,136.79L822.06,124.01L822.96,134.08L823.70,126.71L824.88,138.41L825.80,124.96L826.31,136.05L827.37,127.12L828.26,139.33L828.98,124.45L830.20,137.35L830.81,126.91L831.71,140.55L832.57,126.01L833.48,137.04L834.33,127.69L835.42,140.61L836.24,125.40L836.98,138.95L838.05,126.77L838.87,141.04L839.75,124.01L840.64,135.04L841.36,125.22L842.47,138.02L843.31,123.92L844.01,133.95L845.04,121.85L845.99,136L846.66,116.85L847.50,130.33L848.50,117.33L849.50,133.62L850.31,115.73L850.87,127.45L851.85,117.25L852.69,130.16L853.52,113.36L854.71,124.22L855.62,113.84L856.51,127.02L857.33,110.51L858.01,122.99L859.11,111.76L860.01,122.80L860.68,108.24L861.76,121.26L862.33,111.04L863.42,121.99L864.20,107.17L865.03,118.68L866.06,107.98L866.87,122.81L867.87,105.78L868.51,116.90L869.32,108.28L870.33,122.81L871.22,107.16L872.18,119.68L872.94,108.14L873.96,120.73L874.82,105.19L875.60,118.30L876.38,107.01L877.50,123.24L878.34,105.72L879.27,119.55L880.06,107.25L880.98,122.98L881.59,105.58L882,131.11L883.66,109.53L884.41,123.40L885.24,106.58L886.21,117.10L886.98,106.93L887.73,124.11L888.96,104.61L889.78,119.22L890.40,106.32L891.30,120.52L892.23,103.19L893.11,115.54L894,98.39L894.91,118.50L895.86,103.19L896.86,115.74L897.54,106.75L898.53,120.32L899.51,104.26L900.17,116.09L900.99,106.61L902.05,118.62L902.83,104.74L903.82,116.27L904.46,106.55L905.33,119.27L906.28,105.40L907.24,116.66L908.16,109.12L909.02,119.49L909.84,107.19L910.81,117.95L911.61,112.56L912.55,122.01L913.52,115.76L914.18,123.47L915,117.42L915.83,128.34L916.88,115.85L917.58,128.50L918.71,119.79L920,140.61L920.33,117.35L921.34,128.32L921.99,120.71L923.18,131.71L923.96,119.33L924.96,129.06L925.50,123.34L926.40,131.22L927.42,119.88L928.44,129.71L929.31,121.54L929.94,130.80L931.10,120.34L931.95,129.70L932.50,124.53L933.64,131.36L934.42,126.14L935.16,132.74L936.32,128.71L936.87,136.14L937.80,128.48L938.75,137.30L939.89,134.20L940.74,142.27L941.46,136.54L942.40,142.06L943.37,138.93L943.95,143.95L944.81,137.73L946.02,143.94L946.91,139.77L947.53,146.24L948.55,139.07L950,153.61L950.18,141.74L951.17,147.68L952.07,141.55L952.80,146.40L953.85,144.14L954.55,147.61L955.57,144.66L956.49,148.51L957.16,145.84L958.29,150.73L959.04,146.79L959.98,151.07L960.74,148.74L961.54,153.85L962.56,149.83L963.48,155.27L964.37,151.90L965.27,158.08L966.17,152.04L967,166.61L967.63,151.80L968.60,160.55L969.67,149.55L970.40,160.02L971.47,152.49L972.34,164.81L973.20,149.19L974.06,163.28L974.94,154.11L975.50,167.56L976.66,152.89L977.28,165.79L978.47,156.45L978.98,167.62L980.16,154.13L980.21,172.31L981.84,156.90L982.82,167.58L983.65,156.91L984.37,165.81L985.41,157.41L986.07,171.65L986.98,156.92L987.90,168.47L988.72,161.20L989.76,170.93L990.75,159.54L991.49,167.50L992.30,160.91L993.21,169.78L994.10,157.73L994.93,166.76L995.88,159.79L996.65,170.03L997.57,159.63L998.30,169.06L999.43,163.30L1000.32,171.39L1001.04,162.62L1002.16,170.67L1002.88,164.41L1003.80,174.38L1004.63,163.19L1005.60,184.11L1006.21,165.15L1007.42,177.05L1008.12,164.08L1008.94,173.39L1009.74,165.47L1010.62,179.02L1011.52,163.19L1012.54,175.83L1013.47,166.03L1014.44,178.37L1015.03,163.19L1016.40,184.11L1016.74,167.11L1017.66,176.86L1018.53,164.33L1019.51,172.71L1020.54,164.34L1021.25,177.04L1022.07,164.46L1023.04,176.30L1024.08,165.18L1024.66,178.46L1025.62,162.43L1026.43,174.44L1027.48,164.79L1028.48,178.02L1029.08,162.30L1030.26,175.09L1031.02,165.95L1031.82,176.26L1032.61,163.93L1033,183.11L1034.35,165.44L1035.35,175.39L1036.15,163.21L1036.93,173.45L1038.12,165.36L1038.68,175L1039.77,163.36L1040.75,173.48L1041.64,165.54L1042.43,176.02L1043.29,163.19L1044.22,175.01L1044.94,166.43L1045.92,175.48L1046.55,164.13L1047.77,173.21L1048.48,165.40L1049.19,174.60L1050.42,163.69L1051.14,173.84L1052.07,166.26L1052.83,176.41L1053.80,165.98L1054.40,184.61L1055.62,167.41L1056.48,176.41L1057.41,167.61L1058.23,175.23L1058.94,169.02L1060,176.17L1060.63,169.07L1061.47,175.56L1062.43,170.86L1063.60,182.11L1064.19,170.28L1065.07,178.28L1065.94,172.56L1067.58,189.11L1067.63,171.28L1068.58,178.31L1069.43,172.88L1070.52,177.87L1071.50,172.78L1072.15,177.18L1073.23,174.79L1074.06,179.16L1074.80,174.53L1075.69,179.22L1076.60,176.04L1077.27,182.31L1078.51,177.01L1079.98,191.61L1080.03,178.97L1080.84,185.21L1081.71,179.92L1082.70,186.21L1083.59,182.85L1084.49,189.77L1085.51,184.48L1086.42,192.19L1087.10,187.03L1088,195.98L1088.75,187.80L1089.64,195.07L1090.64,190.17L1091.65,198.31L1092.56,191.96L1092.61,202.21L1094.30,192.55L1094.94,201.03L1095.78,193.02L1096.93,202.67L1097.49,195.60L1098.41,204.89L1099.36,197.42L1100.27,204.99L1101.09,199.27L1101.85,207.63L1102.82,199.68L1103.60,216.61L1104.55,201.88L1105.46,208.38L1106.49,202.42L1107.16,208.43L1108.07,204.52L1108.98,209.13L1109.96,205.57L1110.72,210.34L1111.50,207.12L1112.48,211.47L1113.56,209.09L1114.48,212.87L1115.14,210.22L1116.14,214.87L1116.79,211.38L1117.66,216.96L1118.57,213.09L1119.55,219.30L1120.59,214.54L1121.49,221.88L1122.19,217.18L1123,226.91L1124.16,217.53L1124.81,224.39L1125.79,218.67L1126.54,229.55L1127.59,220.46L1128.40,230.38L1129.35,220.84L1131,236.61L1131.10,221.38L1132.04,231.48L1132.80,223.24L1133.46,233.70L1134.30,223.50L1135.31,234.75L1136.44,225.32L1137.21,236.37L1138.21,226.60L1138.93,235.38L1139.77,228.62L1140.82,239.34L1141.37,231.04L1142.59,240.57L1143.21,232.46L1144,243.94L1144.98,234.57L1145.91,244.43L1146.97,237.30L1147.51,246.62L1148.62,238.95L1149.59,246.62L1150.46,240.93L1151.25,248.79L1152.20,242.98L1152.40,256.61L1153.82,244.44L1154.54,251.53L1155.51,246.43L1156.63,252.56L1157.45,248.90L1158.33,257.71L1159.10,249.49L1160.01,260.68L1160.88,252.02L1161.52,262.82L1162.67,253.44L1163.41,263.27L1164.38,255.37L1165.27,265.70L1166.01,256.07L1166.90,265.41L1167.79,258.31L1168.92,267.18L1169.74,259.17L1170.52,267.45L1171.45,261.64L1172.20,270.25L1173.04,262.94L1173.88,270.89L1174.76,265.48L1175.74,273.86L1176.68,266.96L1177.51,273.86L1178.44,268.80L1179.22,274.94L1180.05,270.20L1181.06,275.29L1181.77,271.65L1182.65,279.73L1183.77,273.15L1184.44,282.90L1185.37,275.50L1186.16,287.69L1187.04,276.43L1187.87,288.21L1189.01,279.27L1189.64,293.97L1190.55,279.94L1191.49,293.20L1192.29,283.79L1193.28,295.16L1194.02,284.25L1194.86,294.51L1195.94,285.90L1196.77,296.69L1197.63,287.84L1198.74,299.31L1199.58,290.66L1200.47,303.22L1201.03,291.03L1202.04,303.75L1202.80,295.73L1204,307.33L1204.76,298.17L1205.56,307.14L1206.51,301.67L1207.31,310.21L1208.33,303.63L1208.96,312.28L1209.82,305.91L1210.87,317.34L1211.54,307.88L1212.40,319.67L1213.54,311.38L1214.16,324.60L1215.26,313.55L1216,335.11L1217,316.92L1217.74,327.55L1218.84,320.69L1219.76,330.01L1220.44,323.11L1221.60,344.61L1222.29,326.43L1223.29,338.49L1223.98,331.28L1224.98,343.57L1225.69,334.07L1226.70,348.53L1227.65,337L1228.33,353.28L1229.47,340.27L1230,362.61L1231.10,342L1232.01,360.06L1232.59,343.42L1233.83,362.79L1234.54,347.06L1235.28,368.10L1236.35,349.15L1237.11,370.20L1238.07,354.86L1238.83,375.51L1239.66,354.18L1240.77,375.24L1241.57,357.76L1242.41,378.26L1243.36,360.11L1244.24,377.20L1244.93,362.58L1246.13,380.76L1246.78,362.73L1247.52,378.45L1248.66,367.21L1250,391.11L1250.14,366.76L1251.11,381.11L1252.08,369.72L1253.01,385.06L1253.83,371.62L1254.66,385.07L1255.51,373.60L1256.36,387.88L1257.24,373.98L1258.17,386.45L1259.04,375.96L1260,388.61L1260.78,376.62L1261.78,389.03L1262.77,379.69L1263.30,391.25L1264.48,378.87L1265.31,391.29L1265.94,382.21L1267.08,394.27L1267.78,383.25L1269,404.61L1269.69,384.56L1270.42,395.59L1271.19,385.14L1272.14,395.60L1273.22,387.26L1274.06,396.12L1274.89,388.08L1275.93,395.99L1276.47,388.11L1277.37,397.44L1278.59,387.39L1279.43,397.58L1280.05,387.98L1281.03,399.11L1281.89,388.25L1282.80,399.03L1283.77,390.70L1284.68,400.86L1285.56,389.24L1286.45,400.77L1287.10,390.97L1288.21,403.92L1288.87,391.69L1290.01,405.40L1290.54,393.70L1291.56,407.29L1292.52,395.57L1293.52,407.38L1294.17,396.74L1295.19,409.63L1295.89,396.66L1296.67,409.33L1297.57,399.02L1298.66,413.59L1299.62,399.10L1300.40,413.50L1301.35,401.59L1302.01,415.36L1303.04,402.92L1303.98,415.09L1304.84,405.91L1305.72,416.77L1306.41,405.81L1307.32,415.94L1308.24,407.37L1309.14,416.66L1309.84,407.32L1311.02,416.40L1311.69,408.52L1312.45,417.84L1313.36,409.10L1314.36,417.29L1315.38,409.62L1315.98,418.60L1317.08,410.11L1317.80,419.95L1318.66,411.72L1319.48,421.30L1320.70,412.82L1321.26,421.41L1322.42,414.09L1323.22,424.33L1324.14,414.75L1325.01,424.57L1325.72,415.93L1326.82,426.70L1327.50,415.39L1328.26,426.25L1329.48,416.71L1330.15,428.58L1331.19,417.33L1331.98,426.04L1332.63,417.55L1333.60,427.89L1334.71,418.22L1335.58,427.01L1336.33,419.60L1337.28,429.43L1338.20,420.92L1338.99,429.59L1339.75,421.87L1340.77,431.60L1341.57,421.70L1342.66,430.52L1343.49,423.28L1344.05,431.05L1344.95,422.38L1346.13,431.14L1347.02,423.02L1347.83,431.22L1348.80,422.86L1349.37,430.69L1350.42,423.45L1351.19,433.80L1352.06,424.96L1352.84,434.57L1353.73,427.45L1354.82,436.60L1355.46,429.33L1356.52,437.13L1357.37,431.56L1358.10,439.66L1359.03,430.90L1360.18,439.71L1360.97,432.34L1361.60,441.41L1362.61,432.85L1363.59,441.56L1364.52,434.73L1365.47,443.01L1366.01,435.40L1367.10,442.76L1367.76,438.80L1368.97,443.41L1369.55,441.97L1370.70,443.35L1371.42,442.96L1372.27,443.40L1373.35,443.17L1373.90,443.37L1374.91,443.38L1375.66,443.41L1376.77,443.36L1377.69,443.40L1378.25,443.33L1379.39,443.41L1380.11,443.30L1380.95,443.40L1381.50,441.99L1382.69,443.41L1383.55,443.31L1384.76,443.40L1385.48,443.31L1386.52,443.41L1387.07,443.31L1388.26,443.40L1389.06,443.33L1390.01,443.41L1390.77,443.33L1391.59,443.40L1392.33,443.34L1393.20,443.41L1394.29,443.35L1395.28,443.40L1396.07,443.36L1396.84,443.41L1397.67,443.36L1398.80,443.40L1399.42,443.37L1400.35,443.41L1401.22,443.38L1402.08,443.41L1402.82,443.39L1403.95,444.81L1404,441.89L1405.65,443.41L1406.36,443.39L1407.36,443.41L1408.10,443.38L1409.23,443.40L1410.04,443.37L1410.77,443.41L1411.84,443.36L1412.58,443.40L1413.48,443.36L1414.49,443.41L1415.26,443.35L1416.13,443.41L1416.93,443.34L1417.84,443.41L1418.80,443.34L1419.50,443.40L1420.51,443.33L1421,444.21L1422.32,443.32L1423.13,443.41L1424.20,443.32L1424.93,443.41L1425.74,443.31L1426.60,443.40L1427.70,443.30L1428.51,443.41L1429.49,442.57L1430.29,443.33L1431.13,442.95L1432,443.31"/>
</g>
<rect x="86.5" y="80.5" width="1410.0" height="387.0" fill="none" stroke="#000" stroke-width="1.111" shape-rendering="crispEdges"/>
<rect x="81.40" y="80.97" width="5.10" height="1.06" fill="#000"/>
<rect x="81.40" y="127.97" width="5.10" height="1.06" fill="#000"/>
<rect x="81.40" y="173.97" width="5.10" height="1.06" fill="#000"/>
<rect x="81.40" y="219.97" width="5.10" height="1.06" fill="#000"/>
<rect x="81.40" y="266.97" width="5.10" height="1.06" fill="#000"/>
<rect x="81.40" y="312.97" width="5.10" height="1.06" fill="#000"/>
<rect x="81.40" y="359.97" width="5.10" height="1.06" fill="#000"/>
<rect x="81.40" y="405.97" width="5.10" height="1.06" fill="#000"/>
<rect x="81.40" y="452.97" width="5.10" height="1.06" fill="#000"/>
<rect x="149.97" y="467.5" width="1.06" height="5.10" fill="#000"/>
<rect x="356.97" y="467.5" width="1.06" height="5.10" fill="#000"/>
<rect x="570.97" y="467.5" width="1.06" height="5.10" fill="#000"/>
<rect x="784.97" y="467.5" width="1.06" height="5.10" fill="#000"/>
<rect x="1002.97" y="467.5" width="1.06" height="5.10" fill="#000"/>
<rect x="1216.97" y="467.5" width="1.06" height="5.10" fill="#000"/>
<rect x="1431.97" y="467.5" width="1.06" height="5.10" fill="#000"/>
<g font-family="'DejaVu Sans', 'Liberation Sans', sans-serif" fill="#000">
<g font-size="19.444px" text-anchor="end">
<text x="75.3" y="88.60" textLength="42.6">17.5</text>
<text x="75.3" y="135.10" textLength="42.6">15.0</text>
<text x="75.3" y="181.50" textLength="42.6">12.5</text>
<text x="75.3" y="227.90" textLength="42.6">10.0</text>
<text x="75.3" y="274.30" textLength="30.4">7.5</text>
<text x="75.3" y="320.70" textLength="30.4">5.0</text>
<text x="75.3" y="367.10" textLength="30.4">2.5</text>
<text x="75.3" y="413.60" textLength="30.4">0.0</text>
<text x="75.3" y="460.00" textLength="46.5">−2.5</text>
</g>
<g font-size="19.444px" text-anchor="middle">
<text x="149.10" y="492" textLength="80.3">2018-01</text>
<text x="357.30" y="492" textLength="80.6">2018-03</text>
<text x="571.10" y="492" textLength="80.6">2018-05</text>
<text x="785.20" y="492" textLength="80.3">2018-07</text>
<text x="1003.20" y="492" textLength="80.3">2018-09</text>
<text x="1217.20" y="492" textLength="80.5">2018-11</text>
<text x="1431.15" y="492" textLength="80.0">2019-01</text>
</g>
<text font-size="19.444px" text-anchor="middle" textLength="261.95" transform="translate(18,274.2) rotate(-90)">Sea water temperature [C]</text>
<g font-size="22.222px" xml:space="preserve">
<text x="86.0" y="22" textLength="1055.7" style="white-space:pre">noaa_nos_co_ops_9455920: bias: -0.7  corr: 1.0  ioa: nan  mse: 1.2  ss: 1.0  rmse: 1.1  dist: 0.1</text>
<text x="86.0" y="48.7" textLength="506.5" style="white-space:pre">2018-01-01 depth: 0.0 lon: -149.89 lat: 61.24</text>
<text x="86.0" y="75.3" textLength="399.4" style="white-space:pre">Sea temperature, from fixed station</text>
</g>
<rect x="1398.5" y="87.5" width="91" height="46" rx="2.8" ry="2.8" fill="#fff" fill-opacity="0.8" stroke="#ccc" stroke-opacity="0.8" stroke-width="1.111"/>
<path d="M1403.8,99.4H1431.6" stroke="#000" stroke-width="3.1" stroke-linecap="square"/>
<path d="M1403.8,120.5H1431.6" stroke="#f00" stroke-width="3.1" stroke-linecap="square"/>
<text font-size="13.889px" x="1443" y="104.1" textLength="30.7">data</text>
<text font-size="13.889px" x="1443" y="125.3" textLength="40.1">CIOFS</text>
</g>
</svg>
</body></html>
